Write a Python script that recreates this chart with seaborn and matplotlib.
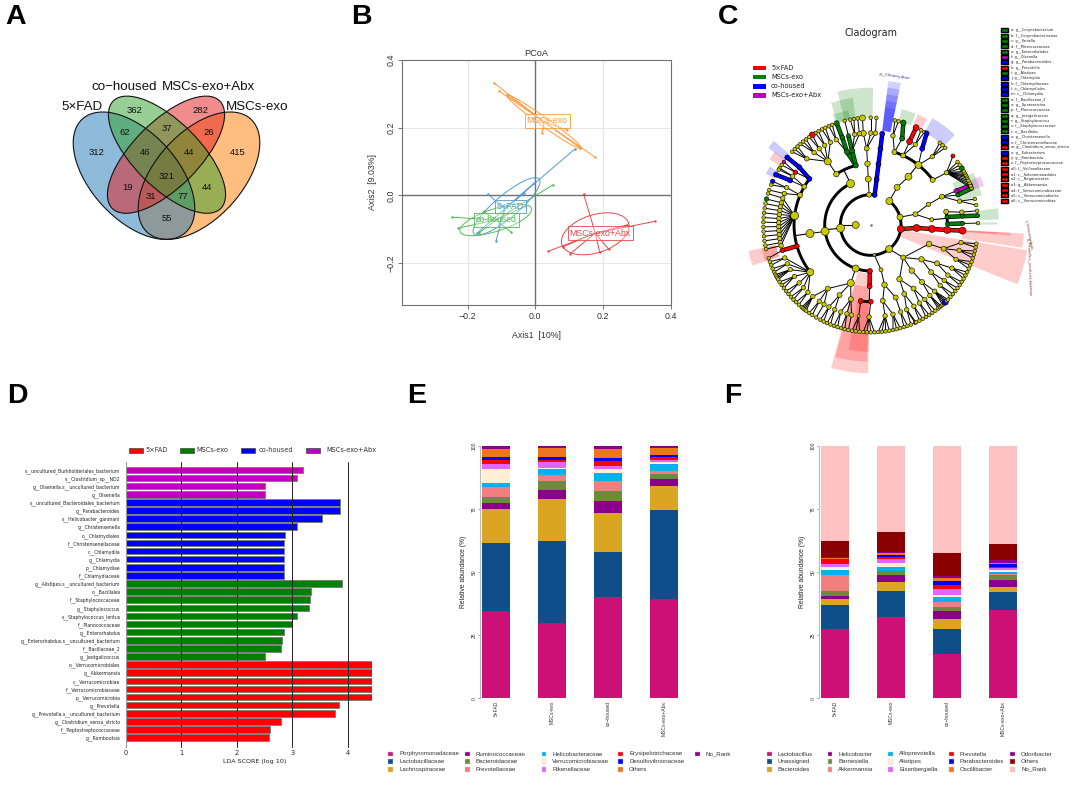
import numpy as np
import pandas as pd
import matplotlib
matplotlib.use('Agg')
import matplotlib.pyplot as plt
import seaborn as sns
from matplotlib.patches import Ellipse, Wedge, Rectangle
from matplotlib.colors import to_rgba

W, H = 1080, 789
SANS = 'Liberation Sans'
DEJA = 'DejaVu Sans'

groups = ['5×FAD', 'MSCs-exo', 'co\u2212housed', 'MSCs-exo+Abx']
group_names = ['5×FAD', 'MSCs-exo', 'co-housed', 'MSCs-exo+Abx']
lefse_colors = ['#FF0000', '#008000', '#0000FF', '#BF00BF']

# panel A
venn_counts = [312, 362, 282, 415, 62, 37, 26, 46, 44, 321, 19, 44, 31, 77, 55]
venn_count_x = [97, 134.3, 200, 237.3, 125.3, 167, 208.7, 145, 189, 167, 128, 206.7, 150.7, 183.3, 167]
venn_count_y = [152.7, 110.7, 110.7, 152.7, 132.3, 128, 132.3, 152.7, 152.7, 176, 187.3, 187.3, 196, 196, 218]
venn_colors = ['#1F78B4', '#33A02C', '#E31A1C', '#FF7F00']

# panel B, one set of samples per group
pcoa_exo_x = [-0.123, -0.108, -0.084, 0.020, 0.023, 0.094, 0.133, 0.177]
pcoa_exo_y = [0.333, 0.309, 0.297, 0.183, 0.198, 0.193, 0.139, 0.112]
pcoa_fad_x = [0.116, -0.140, -0.116, -0.172, -0.034, -0.108, -0.005]
pcoa_fad_y = [0.136, 0.003, -0.134, -0.112, 0.006, -0.088, 0.035]
pcoa_co_x = [0.052, -0.245, -0.227, -0.072, -0.153, -0.030, -0.167]
pcoa_co_y = [0.031, -0.065, -0.097, -0.109, -0.048, -0.033, -0.112]
pcoa_abx_x = [0.143, 0.354, 0.038, 0.103, 0.217, 0.190, 0.271, 0.083]
pcoa_abx_y = [0.003, -0.077, -0.166, -0.173, -0.160, -0.167, -0.088, -0.152]
pcoa_centers = [(-0.090, -0.040), (0.026, 0.217), (-0.116, -0.073), (0.177, -0.112)]
pcoa_label_pos = [(-0.074, -0.033), (0.035, 0.220), (-0.115, -0.073), (0.192, -0.112)]
pcoa_ell_center = [(-0.085, -0.033), (0.026, 0.217), (-0.117, -0.073), (0.177, -0.114)]
pcoa_ell_size = [(0.252, 0.068), (0.272, 0.026), (0.222, 0.066), (0.207, 0.112)]
pcoa_ell_angle = [40, -35.6, 18, 18]
pcoa_colors = ['#4E9AD0', '#FF9A3C', '#55BB55', '#E8474A']

# panel D
lda_labels = ['s__uncultured_Burkholderiales_bacterium', 's__Clostridium_sp__ND2',
              'g__Olsenella.s__uncultured_bacterium', 'g__Olsenella',
              's__uncultured_Bacteroidales_bacterium', 'g__Parabacteroides', 's__Helicobacter_ganmani',
              'g__Christensenella', 'o__Chlamydiales', 'f__Christensenellaceae', 'c__Chlamydiia',
              'g__Chlamydia', 'p__Chlamydiae', 'f__Chlamydiaceae',
              'g__Alistipes.s__uncultured_bacterium', 'o__Bacillales', 'f__Staphylococcaceae',
              'g__Staphylococcus', 's__Staphylococcus_lentus', 'f__Planococcaceae', 'g__Enterorhabdus',
              'g__Enterorhabdus.s__uncultured_bacterium', 'f__Bacillaceae_2', 'g__Jeotgalicoccus',
              'o__Verrucomicrobiales', 'g__Akkermansia', 'c__Verrucomicrobiae', 'f__Verrucomicrobiaceae',
              'p__Verrucomicrobia', 'g__Prevotella', 'g__Prevotella.s__uncultured_bacterium',
              'g__Clostridium_sensu_stricto', 'f__Peptostreptococcaceae', 'g__Romboutsia']
lda_scores = [3.19, 3.08, 2.50, 2.50,
              3.87, 3.86, 3.54, 3.08, 2.87, 2.86, 2.86, 2.86, 2.86, 2.85,
              3.89, 3.33, 3.32, 3.30, 3.08, 2.99, 2.86, 2.82, 2.79, 2.50,
              4.44, 4.44, 4.44, 4.44, 4.44, 3.84, 3.77, 2.80, 2.59, 2.58]
lda_groups = ['MSCs-exo+Abx'] * 4 + ['co-housed'] * 10 + ['MSCs-exo'] * 10 + ['5×FAD'] * 10

# panel E
family_names = ['Porphyromonadaceae', 'Lactobacillaceae', 'Lachnospiraceae', 'Ruminococcaceae', 'Bacteroidaceae',
                'Prevotellaceae', 'Helicobacteraceae', 'Verrucomicrobiaceae', 'Rikenellaceae',
                'Erysipelotrichaceae', 'Desulfovibrionaceae', 'Others', 'No_Rank']
family_colors = ['#CD1076', '#104E8B', '#DAA520', '#8B008B', '#6E8B3D', '#F08080', '#00B2EE', '#FFEFD5',
                 '#E066FF', '#FF0000', '#0000FF', '#EE7621', '#8B008B']
family_fad = [34.4, 27.2, 13.3, 2.4, 2.3, 4.2, 1.3, 5.7, 1.9, 1.5, 1.4, 3.1, 1.3]
family_exo = [29.8, 32.5, 16.5, 3.5, 3.7, 2.4, 2.4, 0.5, 2.2, 0.7, 1.4, 3.3, 1.1]
family_co = [40.2, 17.8, 15.4, 4.7, 4.0, 3.9, 3.2, 1.6, 1.3, 1.7, 1.2, 3.5, 1.5]
family_abx = [39.3, 35.1, 9.8, 2.6, 2.1, 1.2, 2.8, 0.5, 0.8, 1.2, 0.8, 3.0, 0.8]

# panel F
genus_names = ['Lactobacillus', 'Unassigned', 'Bacteroides', 'Helicobacter', 'Barnesiella', 'Akkermansia',
               'Alloprevotella', 'Alistipes', 'Eisenbergiella', 'Prevotella', 'Parabacteroides', 'Oscillibacter',
               'Odoribacter', 'Others', 'No_Rank']
genus_colors = ['#CD1076', '#104E8B', '#DAA520', '#8B008B', '#6E8B3D', '#F08080', '#00B2EE', '#FFEFD5',
                '#E066FF', '#FF0000', '#0000FF', '#EE7621', '#8B008B', '#8B0000', '#FFC1C1']
genus_fad = [27.3, 9.6, 2.4, 1.2, 2.1, 6.1, 2.0, 1.3, 1.0, 2.0, 0.2, 0.2, 0.4, 6.3, 37.9]
genus_exo = [32.2, 10.3, 3.5, 2.7, 1.7, 0.1, 1.4, 1.8, 1.6, 0.5, 0.8, 0.9, 0.5, 8.0, 34.0]
genus_co = [17.7, 9.7, 3.9, 3.1, 1.9, 1.7, 2.2, 0.7, 2.2, 1.8, 1.4, 1.5, 0.7, 9.0, 42.5]
genus_abx = [35.0, 7.1, 2.0, 2.7, 2.0, 0.4, 0.7, 1.0, 0.6, 0.4, 1.3, 0.4, 1.0, 6.6, 38.8]

# panel C legend
clade_labels = ['a: g__Corynebacterium', 'b: f__Corynebacteriaceae', 'c: g__Yaniella', 'd: f__Micrococcaceae',
                'e: g__Enterorhabdus', 'f: g__Olsenella', 'g: g__Parabacteroides', 'h: g__Prevotella',
                'i: g__Alistipes', 'j: g__Chlamydia', 'k: f__Chlamydiaceae', 'l: o__Chlamydiales',
                'm: c__Chlamydiia', 'n: f__Bacillaceae_2', 'o: g__Sporosarcina', 'p: f__Planococcaceae',
                'q: g__Jeotgalicoccus', 'r: g__Staphylococcus', 's: f__Staphylococcaceae', 't: o__Bacillales',
                'u: g__Christensenella', 'v: f__Christensenellaceae', 'w: g__Clostridium_sensu_stricto',
                'x: g__Eubacterium', 'y: g__Romboutsia', 'z: f__Peptostreptococcaceae', 'a0: f__Veillonellaceae',
                'a1: c__Selenomonadales', 'a2: c__Negativicutes', 'a3: g__Akkermansia',
                'a4: f__Verrucomicrobiaceae', 'a5: c__Verrucomicrobiales', 'a6: c__Verrucomicrobiae']
clade_label_colors = 'gggggmbrgbbbbgggggggbbrbrrrrrrrrr'
node_colors = {'y': '#C8C800', 'g': '#008000', 'b': '#0000FF', 'r': '#FF0000', 'm': '#BF00BF'}

# cladogram: angle in degrees, depth gives the ring
RINGS = [45, 91, 138, 184, 230, 276, 322]
NODE_PX = [7.5, 6.5, 6, 5.5, 5, 4.5, 3.6]


def n(angle, *kids, c='y', arc=False, big=None):
    return {'angle': angle, 'kids': kids, 'c': c, 'arc': arc, 'big': big}


tree = n(180,
         n(82.5, n(82.6, n(82.7, n(82.7, n(82.8, c='b', big=5), c='b', big=5), c='b', big=5), c='b', big=5), c='b', big=5),
         n(93, n(93, n(93, n(93, n(94.6, n(94.4, big=6), big=6), n(90, 90), n(87, 87)))), big=5),
         n(186,
           n(116,
             n(104,
               n(108, n(108, n(108.5, c='g', big=5), c='g', big=4.5), n(112, 111, 113), c='g', big=5),
               n(104, n(104, 104, c='g', big=4), n(100, 99, 101), n(97, 97), c='g', big=5),
               c='g', big=5),
             n(124,
               n(124, n(116, 115, 117), n(120, 119, 121), n(124, n(123, c='r', big=6), 125),
                 n(128, 127, 129, 131), n(134, 133, 135, 137), big=7)),
             arc=True, big=8),
           n(188,
             n(188,
               n(143, n(141, n(141, c='b', big=5), c='b', big=5), n(145, n(144, c='m', big=3.5), 146, c='r', big=4.5), c='b', big=5),
               n(150, n(151, n(152, c='b', big=5), c='b', big=5), n(148, 148, 149)),
               n(157, n(156, n(156, c='b', big=4.5), 158), n(160, 161)),
               n(173, n(163, 163), n(166, n(166, c='g', big=4.5)), n(168.5, 168.5), n(171, 171), n(173.5, 173.5),
                 n(176, 176), n(178.5, 178.5), n(181, 181), n(183.5, 183.5), n(186, 186), n(188.5, 188.5),
                 n(191, 191), n(193, 193), big=8),
               n(196, n(196, n(198, big=3.5), c='r', big=4.5), c='r', big=4.5),
               n(218, n(201, 200, 202), n(205, 204, 206), n(209, 207.5, 208.5, 209.5, 210.5), n(214, 212, 214, 216),
                 n(219, 218, 220), n(223, 222, 224), n(227, 226, 228), big=7),
               arc=True, big=8),
             big=8),
           n(251,
             n(251,
               n(236, n(231, 230, 231, 232, 233), n(236, 235, 237), n(239.5, 239.5)),
               n(246, n(243, 242, 244), n(247, 246, 248)),
               n(255, n(251, 250, 252), n(255, 254, 256), n(258, 258)),
               big=7),
             big=7),
           n(269,
             n(269,
               n(262.5, n(262.5, 260, 262, 264, big=3), c='r', big=5),
               n(270, n(269, 266, 268, 270, 272), c='r', big=5),
               arc=True, c='r', big=5),
             c='r', big=5),
           arc=True, big=8),
         n(277, n(283, n(283, n(279, n(279, 274, 276, 278, 280), n(284, 282, 284, 286)), n(289, n(289, 288, 290))), big=4), big=3),
         n(307.5,
           n(315,
             n(298, n(296, n(293, 292, n(294.4, c='m', big=3.5), 295), n(298, 297, 299)), n(304, n(302, 301, 303), n(306, 305, 307))),
             n(312, n(312, n(310, 309, 310, 311), n(314, 312, 313, n(314, c='b', big=6), 315, 316))),
             n(326, n(322, n(319, 318, 320), n(323, 322, 324)), n(330, n(327, 326, 328), n(332, 330, 332, 334))),
             n(342, n(342, n(338, 336, 338, 340), n(344, 342, 344, 346), n(349, 348, 350))),
             big=5),
           big=7),
         n(352.5, n(356.3, n(356.3, n(356.3, n(356.5, c='r', big=7), c='r', big=7), c='r', big=7), c='r', big=7), c='r', big=7),
         n(375,
           n(373.5,
             n(379.7, n(381.7, n(381.7, n(381.6, c='m', big=4.5), c='m', big=4.5), n(379, n(380, c='g', big=4), c='g', big=4), n(375, 374, 370.7)), big=4.5),
             n(365, n(370, n(368, 367.6)),
               n(366, n(365.5, n(365, c='g', big=4), c='g', big=4), c='g', big=4),
               n(360.7, n(361, 361, c='g', big=4), c='g', big=4), arc=True, big=4),
             big=5),
           big=6),
         n(412,
           n(415,
             n(412,
               n(432, n(430, n(432.3, c='g', big=5.5), c='g', big=5), n(436, 435, 437)),
               n(425, n(425, n(425, c='r', big=6), c='r', big=6), n(421, 420, 422)),
               n(411.5, n(416, n(418.6, c='b', big=5), c='b', big=5), n(408, 406, 408, 410), big=7),
               n(396, n(394.6, 380, 381.5, 383, 384.5, 386, 387, 388, 389, 390, n(392, c='g', big=5), 394, 396, n(400, c='r', big=4)), big=5),
               arc=True, big=7),
             big=6),
           big=7),
         arc=True, big=7)

# highlight sectors: start angle, end angle, inner ring, outer ring, colour, opacity
sector_a = [78, 78, 78, 78, 78, 89, 98, 101, 139, 142.5, 150, 192, 192,
            254.5, 255, 260, 351.5, 355.7, 356, 338, 2.5, 0.2, 15, 19, 68, 62, 47]
sector_b = [83, 83, 83, 83, 83, 104, 108, 109, 143, 147, 154, 199, 199,
            269, 268.5, 269, 356.8, 356.8, 356.6, 350.8, 7.5, 1.2, 27, 24, 75, 67, 60]
sector_in = [285, 285, 285, 285, 285, 322, 322, 322, 322, 322, 322, 290, 290,
             145, 185, 235, 276, 276, 276, 95, 325, 325, 275, 325, 322, 322, 322]
sector_out = [435, 415, 395, 375, 355, 412, 385, 350, 385, 362, 350, 375, 335,
              445, 410, 380, 460, 420, 380, 475, 385, 380, 345, 360, 360, 360, 370]
sector_c = list('bbbbbgggbrbrr' + 'rrr' + 'rrrr' + 'gggm' + 'grb')
sector_alpha = [0.18] * 5 + [0.2] * 22

sns.set_theme(style='white')
plt.rcParams['font.family'] = [SANS, DEJA]
fig = plt.figure(figsize=(W / 100, H / 100), dpi=100, facecolor='white')


def box(x0, y0, x1, y1):
    return fig.add_axes([x0 / W, 1 - y1 / H, (x1 - x0) / W, (y1 - y0) / H])


# full figure layer in pixel coordinates, for the Venn, panel letters and hand placed legends
top = box(0, 0, W, H)
top.set_xlim(0, W)
top.set_ylim(H, 0)
top.axis('off')

for x, y, t in zip([16, 361, 728, 17, 417, 733], [17, 17, 17, 396, 396, 396], 'ABCDEF'):
    top.text(x, y, t, fontsize=20.5, fontweight='bold', ha='center', va='center', color='black')

# panel A, fills go down orange, blue, red, green and the outlines on top
venn_ell = {'blue': ((134, 175.7), 153.4, 86.6, 47.6), 'green': ((167, 154.7), 152, 66, 45),
            'red': ((166, 154.7), 152, 66, -45), 'orange': ((199, 175.7), 153.4, 86.6, -47.6)}
venn_fill = {'blue': venn_colors[0], 'green': venn_colors[1], 'red': venn_colors[2], 'orange': venn_colors[3]}
for key in ['orange', 'blue', 'red', 'green']:
    center, w, h, ang = venn_ell[key]
    top.add_patch(Ellipse(center, w, h, angle=ang, fc=to_rgba(venn_fill[key], 0.5), ec='none'))
for center, w, h, ang in venn_ell.values():
    top.add_patch(Ellipse(center, w, h, angle=ang, fc='none', ec='#111111', lw=0.8))
for x, y, v in zip(venn_count_x, venn_count_y, venn_counts):
    top.text(x, y, str(v), fontsize=6.8, ha='center', va='center', color='#111111')
venn_label_x = [82, 257, 124.5, 208.7]
venn_label_y = [106.5, 106.5, 87, 87]
for x, y, t in zip(venn_label_x, venn_label_y, groups):
    top.text(x, y, t, fontsize=9.6, ha='center', va='center', color='#111111')

# panel B
ax = box(402.3, 60, 670.7, 305)
ax.set_xlim(-0.393, 0.4)
ax.set_ylim(-0.3245, 0.4)
for v in [-0.2, 0.2]:
    ax.axvline(v, color='#E6E6E6', lw=0.8, zorder=0)
    ax.axhline(v, color='#E6E6E6', lw=0.8, zorder=0)
ax.axvline(0, color='#707070', lw=1, zorder=1)
ax.axhline(0, color='#707070', lw=1, zorder=1)
pcoa_sets = [(pcoa_fad_x, pcoa_fad_y), (pcoa_exo_x, pcoa_exo_y), (pcoa_co_x, pcoa_co_y), (pcoa_abx_x, pcoa_abx_y)]
for i, (px, py) in enumerate(pcoa_sets):
    col = pcoa_colors[i]
    cx, cy = pcoa_centers[i]
    for a, b in zip(px, py):
        ax.plot([cx, a], [cy, b], color=col, lw=0.7, zorder=2)
    sns.scatterplot(x=px, y=py, color=col, s=3, linewidth=0, ax=ax, zorder=3)
    ew, eh = pcoa_ell_size[i]
    ax.add_patch(Ellipse(pcoa_ell_center[i], ew, eh, angle=pcoa_ell_angle[i], fc='none', ec=col, lw=0.7, zorder=3))
    lx, ly = pcoa_label_pos[i]
    ax.text(lx, ly, group_names[i], color=col, fontsize=6.3, ha='center', va='center', zorder=4,
            bbox=dict(boxstyle='square,pad=0.25', fc=(1, 1, 1, 0.35), ec=col, lw=0.6))
ax.set_xticks([-0.2, 0, 0.2, 0.4], ['\u22120.2', '0.0', '0.2', '0.4'])
ax.set_yticks([-0.2, 0, 0.2, 0.4], ['\u22120.2', '0.0', '0.2', '0.4'])
ax.tick_params(axis='both', labelsize=6.4, length=3, width=0.6, color='#606060', labelcolor='#333333', bottom=True, left=True, pad=2)
ax.tick_params(axis='y', labelrotation=90)
for t in ax.get_yticklabels():
    t.set_va('center')
ax.set_xlabel('Axis1  [10%]', fontsize=6.3, color='#333333', labelpad=7)
ax.set_ylabel('Axis2  [9.03%]', fontsize=6.3, color='#333333', labelpad=7)
ax.set_title('PCoA', fontsize=6.6, color='#333333', pad=3)
for s in ax.spines.values():
    s.set_color('#707070')
    s.set_linewidth(0.8)

# panel C
clad = box(710.7, 65, 1030.7, 385)
clad.set_xlim(-480, 480)
clad.set_ylim(-480, 480)
clad.axis('off')
for a, b, ri, ro, c, al in zip(sector_a, sector_b, sector_in, sector_out, sector_c, sector_alpha):
    clad.add_patch(Wedge((0, 0), ro, a, b, width=ro - ri, fc=to_rgba(node_colors[c], al), ec='none', zorder=0))

node_x, node_y, node_s, node_c = [], [], [], []


def xy(r, a):
    return r * np.cos(np.radians(a)), r * np.sin(np.radians(a))


def walk(node, depth):
    x0, y0 = xy(RINGS[depth], node['angle'])
    node_x.append(x0)
    node_y.append(y0)
    px = node['big'] if node['big'] else NODE_PX[depth]
    node_s.append((px * 0.72) ** 2)
    node_c.append(node_colors[node['c']])
    kids = [k if isinstance(k, dict) else n(k) for k in node['kids']]
    if kids and node['arc']:
        r = RINGS[depth + 1]
        angs = [k['angle'] for k in kids]
        t = np.radians(np.linspace(min(angs), max(angs), 200))
        clad.plot(r * np.cos(t), r * np.sin(t), color='black', lw=2.1, zorder=2, solid_capstyle='butt')
        ex, ey = xy(r, node['angle'])
        clad.plot([x0, ex], [y0, ey], color='black', lw=0.8, zorder=2)
    for k in kids:
        x1, y1 = xy(RINGS[depth + 1], k['angle'])
        if not node['arc']:
            if k['c'] != 'y' and k['c'] == node['c']:
                clad.plot([x0, x1], [y0, y1], color='black', lw=3.2, zorder=2, solid_capstyle='butt')
                clad.plot([x0, x1], [y0, y1], color=node_colors[k['c']], lw=2.2, zorder=2, solid_capstyle='butt')
            else:
                clad.plot([x0, x1], [y0, y1], color='black', lw=0.7, zorder=2)
        walk(k, depth + 1)


walk(tree, 0)
clad.scatter(node_x, node_y, s=node_s, c=node_c, edgecolors='black', linewidths=0.4, zorder=3)
clad.scatter([0], [0], s=1, c='#888888', zorder=3)
clad.text(*xy(452, 81), 'p__Chlamydiae', fontsize=3, color='#333399', ha='center', va='center', rotation=-8, family=DEJA)
clad.text(*xy(490, -15), 'g__Prevotella.s__uncultured_bacterium', fontsize=2.2, color='#772222', ha='center', va='center', rotation=-88, family=DEJA)
clad.text(*xy(475, -3.5), 'o__Verrucomicrobiales', fontsize=2, color='#772222', ha='center', va='center', rotation=-80, family=DEJA)

top.text(870.7, 33.3, 'Cladogram', fontsize=6.9, ha='center', va='center', family=DEJA, color='#222222')
for i, name in enumerate(group_names):
    y = 68 + i * 9.1
    top.add_patch(Rectangle((753, y - 2.3), 12.5, 4.6, fc=lefse_colors[i], ec='none'))
    top.text(771, y, name, fontsize=4.8, va='center', family=DEJA, color='#222222')
for i, label in enumerate(clade_labels):
    y = 30.3 + i * 5.325
    top.add_patch(Rectangle((1000.5, y - 2), 7.8, 4, fc=node_colors[clade_label_colors[i]], ec='black', lw=1))
    top.text(1010.7, y, label, fontsize=2.6, va='center', family=DEJA, color='#222222')

# panel D
lda = pd.DataFrame({'label': lda_labels, 'score': lda_scores, 'group': lda_groups})
ax = box(126, 461.7, 372, 747)
sns.barplot(data=lda, x='score', y='label', hue='group', palette=dict(zip(group_names, lefse_colors)), dodge=False,
            width=0.8, saturation=1, edgecolor='#808080', linewidth=0.7, legend=False, ax=ax)
ax.set_xlim(0, 4.44)
ax.set_ylim(34.16, -1.02)
for v in [1, 2, 3, 4]:
    ax.axvline(v, color='#222222', lw=0.7, zorder=5, clip_on=False)
ax.set_xticks([0, 1, 2, 3, 4])
ax.tick_params(axis='y', labelsize=3.35, length=0, pad=4, labelcolor='#222222')
ax.tick_params(axis='x', labelsize=4.8, length=0, pad=2, labelcolor='#222222')
for t in ax.get_xticklabels() + ax.get_yticklabels():
    t.set_family(DEJA)
ax.set_ylabel('')
ax.set_xlabel('LDA SCORE (log 10)', fontsize=4.6, family=DEJA, labelpad=2, color='#222222', x=(255 - 126) / 246)
for k in ['top', 'right', 'bottom']:
    ax.spines[k].set_visible(False)
ax.spines['left'].set_color('#999999')
ax.spines['left'].set_linewidth(0.8)
lda_patch_x = [128.5, 179.5, 241, 306]
lda_text_x = [145.5, 196, 259, 326]
for x, tx, name, col in zip(lda_patch_x, lda_text_x, group_names, lefse_colors):
    top.add_patch(Rectangle((x, 447.5), 14, 5, fc=col, ec='#444444', lw=0.5))
    top.text(tx, 450, name, fontsize=4.8, va='center', family=DEJA, color='#333333')


# panels E and F
def stacked(x0, names, colors, table):
    ax = box(x0, 445.7, x0 + 200, 698.3)
    table = np.array(table)
    bottoms = np.zeros(4)
    for j, name in enumerate(names):
        sns.barplot(x=groups, y=table[:, j], bottom=bottoms, color=colors[j], width=0.505, saturation=1,
                    linewidth=0, ax=ax)
        bottoms = bottoms + table[:, j]
    ax.set_xlim(-0.286, 3.286)
    ax.set_ylim(0, 100)
    ax.set_yticks([0, 25, 50, 75, 100])
    ax.tick_params(axis='y', labelsize=3.6, labelrotation=90, length=1.5, width=0.4, pad=1, left=True, color='#555555', labelcolor='#333333')
    ax.tick_params(axis='x', labelsize=3.6, labelrotation=90, length=0, pad=2, labelcolor='#333333')
    for t in ax.get_yticklabels():
        t.set_va('center')
    ax.set_ylabel('Relative abundance (%)', fontsize=4.9, labelpad=3, color='#222222')
    for k in ['top', 'right', 'bottom']:
        ax.spines[k].set_visible(False)
    ax.spines['left'].set_color('#BBBBBB')
    ax.spines['left'].set_linewidth(0.8)


def square_legend(mark_x, text_x, per_col, names, colors):
    col = 0
    row = 0
    for name, c in zip(names, colors):
        y = 754 + row * 7.6
        top.add_patch(Rectangle((mark_x[col] - 2.3, y - 2.3), 4.6, 4.6, fc=c, ec='#CCCCCC', lw=0.3))
        top.text(text_x[col], y, name, fontsize=4.4, va='center', color='#333333')
        row += 1
        if row == per_col:
            row = 0
            col += 1


stacked(480, family_names, family_colors, [family_fad, family_exo, family_co, family_abx])
stacked(819, genus_names, genus_colors, [genus_fad, genus_exo, genus_co, genus_abx])
square_legend([390.7, 467.3, 544, 620.7, 697.3], [399, 475.7, 552.3, 629, 705.7], 3, family_names, family_colors)
square_legend([769.3, 830, 890.7, 951.7, 1012.7], [777.7, 838.3, 899.3, 960, 1021], 3, genus_names, genus_colors)

fig.savefig('out.png', dpi=100, facecolor='white')
